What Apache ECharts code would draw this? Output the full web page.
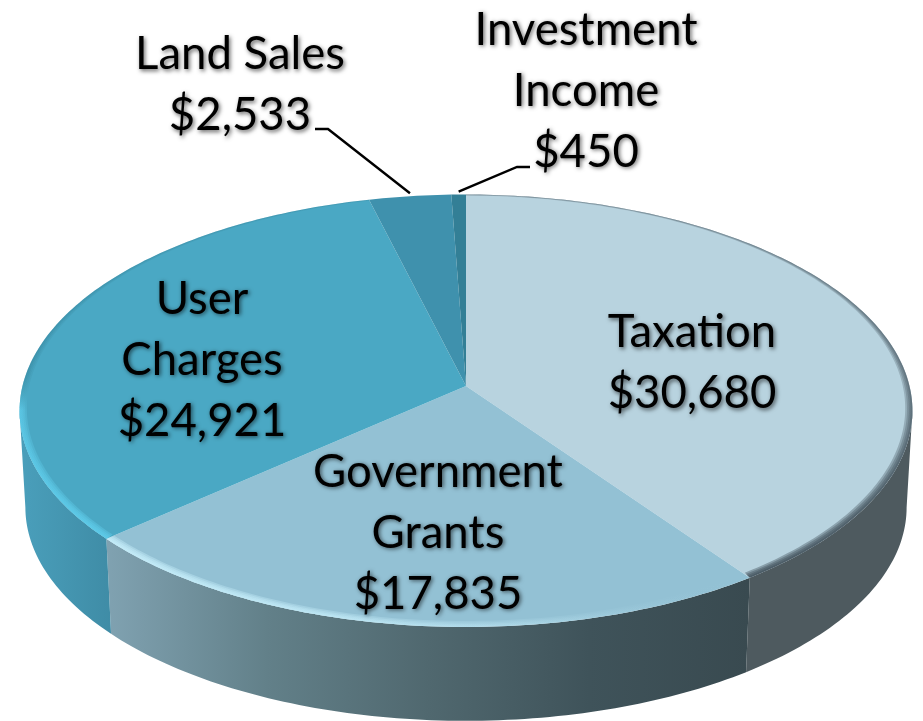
<!DOCTYPE html>
<html>
<head>
<meta charset="utf-8">
<style>
  html, body { margin: 0; padding: 0; background: #fff; }
  #main { width: 923px; height: 721px; }
</style>
<script src="https://cdn.jsdelivr.net/npm/echarts@6/dist/echarts.min.js"></script>
</head>
<body>
<div id="main"></div>
<script>
const categories = ['Taxation', 'Government Grants', 'User Charges', 'Land Sales', 'Investment Income'];
const values = [30680, 17835, 24921, 2533, 450];
const labelLines = ['Taxation', 'Government\nGrants', 'User\nCharges', 'Land Sales', 'Investment\nIncome'];

// look of each slice, same order as categories
const topColors = ['#b8d3df', '#93c1d4', '#4aa8c4', '#3f91ad', '#337f96'];
const sideColors = [
  ['#4e5a5f', '#4e5a5f'],
  ['#80a2b1', '#628089', '#50686f', '#3f535a', '#394a50'],
  ['#4a9fbb', '#3f8ca6'],
  ['#3f8ca6', '#3f8ca6'],
  ['#337f96', '#337f96']
];
const labelPos = [[692, 363], [438, 533], [202, 360], [240, 85], [586, 91]];
const leaders = [null, null, null, [[315, 129], [328, 129]], [[530, 167], [517, 167]]];

const CX = 466, CY = 386;
const RX = 443.5, RY = 213.4, PERSP = 0.1143;
const DEPTH = 97, BOTTOM_SCALE = 0.987;
const FONT = '45.5px Lato, "Noto Sans", sans-serif';
// angles of the left and right silhouette of the disc
const SIDE_FROM = 96.6, SIDE_TO = 263.4;

const total = values.reduce((a, b) => a + b, 0);

function project(deg, r = 1, dy = 0, scale = 1) {
  const a = (deg * Math.PI) / 180;
  const u = Math.sin(a) * r;
  const v = Math.cos(a) * r;
  const w = 1 + PERSP * v;
  return [CX + (scale * RX * u) / w, CY + dy - (scale * RY * v) / w];
}

function arc(from, to, r, dy, scale) {
  const pts = [];
  const n = Math.max(2, Math.ceil(Math.abs(to - from)));
  for (let i = 0; i <= n; i++) {
    pts.push(project(from + ((to - from) * i) / n, r, dy, scale));
  }
  return pts;
}

function sliceAngles(index) {
  let before = 0;
  for (let i = 0; i < index; i++) {
    before += values[i];
  }
  return [(before / total) * 360, ((before + values[index]) / total) * 360];
}

function stops(colors) {
  return colors.map((c, i) => ({ offset: i / (colors.length - 1), color: c }));
}

function renderSide(params) {
  const [start, end] = sliceAngles(params.dataIndex);
  const from = Math.max(start, SIDE_FROM);
  const to = Math.min(end, SIDE_TO);
  if (to <= from) {
    return null;
  }
  const points = arc(from, to, 1, 0, 1).concat(arc(to, from, 1, DEPTH, BOTTOM_SCALE));
  return {
    type: 'polygon',
    shape: { points },
    style: { fill: new echarts.graphic.LinearGradient(0, 0, 1, 0, stops(sideColors[params.dataIndex])) }
  };
}

// soft bevel just inside the rim
function rimFill(i) {
  if (i === 0) {
    return new echarts.graphic.LinearGradient(0, 0, 0, 1, stops(['rgba(60,75,85,0.18)', 'rgba(60,75,85,0.25)', 'rgba(60,75,85,0.4)']));
  }
  if (i === 1) {
    return new echarts.graphic.LinearGradient(0, 0, 1, 0, stops(['rgba(200,240,252,0.4)', 'rgba(200,240,252,0.3)', 'rgba(200,240,252,0.12)', 'rgba(147,193,212,0)']));
  }
  if (i === 2) {
    return new echarts.graphic.LinearGradient(0, 0, 0, 1, [
      { offset: 0, color: 'rgba(40,110,130,0.08)' },
      { offset: 0.5, color: 'rgba(40,110,130,0.1)' },
      { offset: 0.62, color: 'rgba(95,205,235,0.3)' },
      { offset: 1, color: 'rgba(95,205,235,0.42)' }
    ]);
  }
  return null;
}

function renderTop(params, api) {
  const i = params.dataIndex;
  const span = (api.value(0) / total) * 360;
  const [start] = sliceAngles(i);
  const end = start + span;
  const points = [[CX, CY]].concat(arc(start, end, 1, 0, 1));
  const children = [
    { type: 'polygon', shape: { points }, style: { fill: topColors[i] } }
  ];
  const fill = rimFill(i);
  if (fill) {
    [0.016, 0.012, 0.008, 0.004].forEach(dr => {
      const band = arc(start, end, 1, 0, 1).concat(arc(end, start, 1 - dr, -dr * 100, 1));
      children.push({ type: 'polygon', shape: { points: band }, style: { fill } });
    });
  }
  return { type: 'group', children };
}

function renderLabel(params, api) {
  const i = params.dataIndex;
  const [start, end] = sliceAngles(i);
  const children = [];
  if (leaders[i]) {
    const tip = project((start + end) / 2, 1, -3);
    children.push({
      type: 'polyline',
      shape: { points: leaders[i].concat([tip]) },
      style: { stroke: '#000', lineWidth: 2.4, fill: null }
    });
  }
  children.push({
    type: 'text',
    style: {
      text: labelLines[i] + '\n$' + api.value(0).toLocaleString('en-US'),
      x: labelPos[i][0],
      y: labelPos[i][1],
      align: 'center',
      verticalAlign: 'middle',
      font: FONT,
      lineHeight: 61,
      fill: '#000',
      textShadowColor: 'rgba(0,0,0,0.6)',
      textShadowBlur: 4,
      textShadowOffsetX: 1.5,
      textShadowOffsetY: 1.5
    }
  });
  return { type: 'group', children };
}

const seriesData = categories.map((name, i) => ({ name, value: values[i] }));

const chart = echarts.init(document.getElementById('main'));
chart.setOption({
  animation: false,
  backgroundColor: '#fff',
  series: [
    { type: 'custom', coordinateSystem: 'none', renderItem: renderSide, data: seriesData, z: 1, silent: true },
    { type: 'custom', coordinateSystem: 'none', renderItem: renderTop, data: seriesData, z: 2, silent: true },
    { type: 'custom', coordinateSystem: 'none', renderItem: renderLabel, data: seriesData, z: 3, silent: true }
  ]
});
</script>
</body>
</html>
